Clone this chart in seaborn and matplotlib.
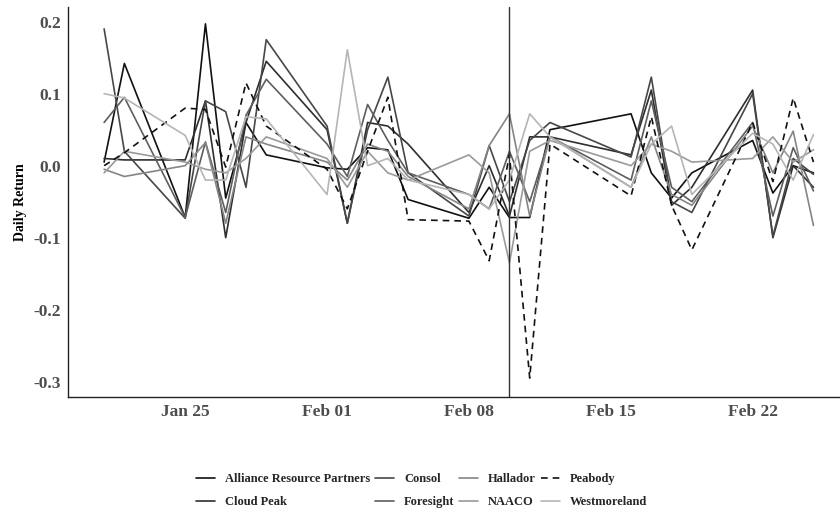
import pandas as pd
import numpy as np
import matplotlib
matplotlib.use("Agg")
import matplotlib.pyplot as plt
import matplotlib.dates as mdates
import seaborn as sns

# trading days (Feb 15 holiday skipped)
dates = pd.to_datetime([
    "2016-01-21", "2016-01-22", "2016-01-25", "2016-01-26", "2016-01-27",
    "2016-01-28", "2016-01-29", "2016-02-01", "2016-02-02", "2016-02-03",
    "2016-02-04", "2016-02-05", "2016-02-08", "2016-02-09", "2016-02-10",
    "2016-02-11", "2016-02-12", "2016-02-16", "2016-02-17", "2016-02-18",
    "2016-02-19", "2016-02-22", "2016-02-23", "2016-02-24", "2016-02-25",
])
event_date = pd.Timestamp("2016-02-10")

alliance = [0.005, 0.142, -0.072, 0.197, -0.045, 0.060, 0.015, -0.003, -0.005, 0.025,
            0.022, -0.047, -0.073, -0.030, -0.072, -0.072, 0.050, 0.072, -0.010, -0.045,
            -0.010, 0.035, -0.038, 0.000, -0.010]
cloud_peak = [0.010, 0.008, 0.008, 0.090, -0.100, 0.060, 0.145, 0.050, -0.080, 0.060,
              0.055, 0.030, -0.065, 0.000, -0.070, 0.040, 0.040, 0.015, 0.105, -0.055,
              -0.030, 0.105, -0.100, 0.000, -0.030]
consol = [0.190, 0.020, -0.073, 0.090, 0.075, -0.030, 0.175, 0.055, -0.080, 0.050,
          0.123, -0.010, -0.070, 0.028, -0.050, 0.035, 0.060, 0.012, 0.123, -0.050,
          -0.065, 0.100, -0.098, 0.010, -0.012]
foresight = [0.060, 0.095, -0.072, 0.033, -0.065, 0.070, 0.120, 0.030, -0.015, 0.085,
             0.035, -0.010, -0.040, -0.060, 0.020, -0.050, 0.040, -0.020, 0.090, -0.030,
             -0.050, 0.060, -0.070, 0.025, -0.035]
hallador = [-0.005, -0.015, 0.000, 0.032, -0.080, 0.040, 0.030, 0.005, -0.020, 0.030,
            0.020, -0.015, -0.060, 0.028, 0.072, -0.070, 0.040, -0.030, 0.040, -0.040,
            -0.055, 0.055, -0.010, 0.048, -0.083]
naaco = [-0.010, 0.020, 0.005, -0.005, -0.010, 0.010, 0.040, 0.010, -0.030, 0.020,
         -0.010, -0.020, 0.015, -0.010, -0.135, 0.020, 0.035, 0.000, 0.030, 0.020,
         0.005, 0.010, 0.040, 0.005, 0.022]
peabody = [0.000, 0.018, 0.080, 0.078, -0.002, 0.115, 0.055, -0.005, -0.060, 0.020,
           0.095, -0.075, -0.077, -0.132, 0.015, -0.295, 0.030, -0.042, 0.068, -0.055,
           -0.117, 0.060, -0.022, 0.094, 0.005]
westmoreland = [0.100, 0.094, 0.042, -0.020, -0.020, 0.068, 0.065, -0.040, 0.161, 0.000,
                0.010, -0.020, -0.040, -0.060, -0.020, 0.072, 0.040, -0.030, 0.030, 0.055,
                -0.040, 0.045, 0.030, -0.020, 0.043]

companies = ["Alliance Resource Partners", "Cloud Peak", "Consol", "Foresight",
             "Hallador", "NAACO", "Peabody", "Westmoreland"]
series = [alliance, cloud_peak, consol, foresight, hallador, naaco, peabody, westmoreland]

df = pd.DataFrame({
    "date": np.tile(dates, len(companies)),
    "ret": np.concatenate(series),
    "company": np.repeat(companies, len(dates)),
})

palette = {"Alliance Resource Partners": "#111111", "Cloud Peak": "#2e2e2e",
           "Consol": "#474747", "Foresight": "#5e5e5e", "Hallador": "#858585",
           "NAACO": "#9a9a9a", "Peabody": "#111111", "Westmoreland": "#b5b5b5"}
dashes = {c: "" for c in companies}
dashes["Peabody"] = (4, 3)

sns.set_style("white")
plt.rcParams["font.family"] = ["Liberation Serif", "DejaVu Serif"]
plt.rcParams["axes.unicode_minus"] = False

fig = plt.figure(figsize=(8.4, 5.14), dpi=100)
ax = fig.add_axes([0.081, 0.2276, 0.919, 0.7588])

sns.lineplot(data=df, x="date", y="ret", hue="company", style="company",
             palette=palette, dashes=dashes, linewidth=1.2, ax=ax, legend=True)
ax.axvline(event_date, color="#333333", linewidth=1.0)

x0 = mdates.date2num(pd.Timestamp("2016-01-25"))
ax.set_xlim(x0 - 5.78, x0 + 28 + 4.31)
ax.set_ylim(-0.3213, 0.2204)
ax.set_yticks([-0.3, -0.2, -0.1, 0.0, 0.1, 0.2])
ax.yaxis.set_major_formatter(matplotlib.ticker.FormatStrFormatter("%.1f"))
ax.xaxis.set_major_locator(mdates.WeekdayLocator(byweekday=mdates.MO))
ax.xaxis.set_major_formatter(mdates.DateFormatter("%b %d"))

for s in ["top", "right"]:
    ax.spines[s].set_visible(False)
for s in ["left", "bottom"]:
    ax.spines[s].set_color("#222222")
    ax.spines[s].set_linewidth(1.0)
ax.tick_params(axis="both", length=3, width=0.8, color="#333333",
               labelsize=12.5, labelcolor="#4d4d4d", pad=2)
for lab in ax.get_xticklabels() + ax.get_yticklabels():
    lab.set_fontweight("bold")
ax.set_xlabel("")
ax.set_ylabel("Daily Return", fontsize=10, fontweight="bold", color="black", labelpad=5)

handles, labels = ax.get_legend_handles_labels()
ax.get_legend().remove()
fig.legend(handles, labels, loc="center", bbox_to_anchor=(0.502, 0.045), ncol=4,
           frameon=False, prop={"weight": "bold", "size": 9}, handlelength=1.5,
           handletextpad=0.8, columnspacing=0.4, labelspacing=0.9)

fig.savefig("out.png", dpi=100)
